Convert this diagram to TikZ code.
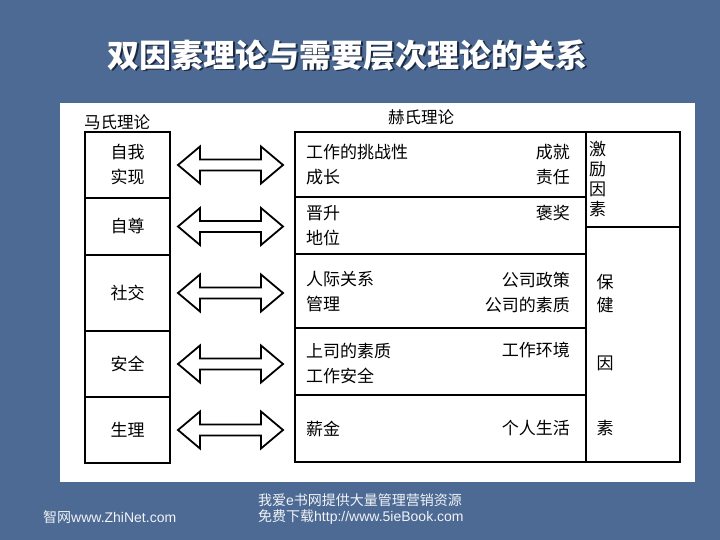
\documentclass[tikz,border=0pt]{standalone}
\usepackage{fontspec}
\setmainfont{Noto Sans CJK SC}
\newfontfamily\latinfont{Liberation Sans}
\usetikzlibrary{calc,positioning}
\definecolor{slideblue}{RGB}{76,106,148}
\definecolor{shadowblue}{RGB}{28,40,62}
\newcommand{\bodyfont}{\fontsize{17}{25}\selectfont}
\tikzset{
  cell/.style={draw, line width=1.4pt, fill=white, inner sep=0pt, outer sep=0pt, align=center, font=\bodyfont},
  lbl/.style={inner sep=0pt, font=\bodyfont},
  titletext/.style={inner sep=0pt, font=\fontsize{32}{36}\selectfont\bfseries},
  foottext/.style={inner sep=0pt, anchor=west, text=white!92!slideblue, font=\fontsize{14}{16}\selectfont},
  dualarrow/.style={draw, line width=1.8pt, fill=white, line join=miter}
}
% double arrow between two boxes
\newcommand{\linkarrow}[2]{%
  \draw[dualarrow] let \p1=(#1.east), \p2=(#2.west) in
  ({\x1+8pt},\y1) -- ({\x1+30pt},{\y1+18.5pt}) -- ({\x1+30pt},{\y1+5.5pt})
  -- ({\x2-34pt},{\y1+5.5pt}) -- ({\x2-34pt},{\y1+18.5pt}) -- ({\x2-12pt},\y1)
  -- ({\x2-34pt},{\y1-18.5pt}) -- ({\x2-34pt},{\y1-5.5pt}) -- ({\x1+30pt},{\y1-5.5pt})
  -- ({\x1+30pt},{\y1-18.5pt}) -- cycle;}

\begin{document}
\begin{tikzpicture}[x=1pt,y=-1pt]
        % Slide background
        \fill[slideblue] (0,0) rectangle (720,540);
        \fill[white] (60,103) rectangle (695,482);
        % Title
        \node[titletext, text=shadowblue] (titleshadow) at (349,56.5) {双因素理论与需要层次理论的关系};
        \node[titletext, text=white] (title) at (347.5,55) {双因素理论与需要层次理论的关系};
        % Column headings
        \node[lbl, font=\fontsize{16.5}{20}\selectfont] (maslow) at (117,122) {马氏理论};
        \node[lbl, font=\fontsize{16.5}{20}\selectfont] (herzberg) at (421,117) {赫氏理论};
        % Maslow needs
        \node[cell, minimum width=85pt, minimum height=66pt] (selfreal) at (127.5,165) {自我\\实现};
        \node[cell, minimum width=85pt, minimum height=57pt, below=0pt of selfreal] (esteem) {自尊};
        \node[cell, minimum width=85pt, minimum height=76pt, below=0pt of esteem] (social) {社交};
        \node[cell, minimum width=85pt, minimum height=66pt, below=0pt of social] (safety) {安全};
        \node[cell, minimum width=85pt, minimum height=66pt, below=0pt of safety] (physio) {生理};
        % Herzberg factors
        \node[cell, minimum width=291pt, minimum height=65pt] (growth) at (440.5,164.5) {};
        \node[cell, minimum width=291pt, minimum height=57pt, below=0pt of growth] (promo) {};
        \node[cell, minimum width=291pt, minimum height=74pt, below=0pt of promo] (relation) {};
        \node[cell, minimum width=291pt, minimum height=67pt, below=0pt of relation] (superv) {};
        \node[cell, minimum width=291pt, minimum height=67pt, below=0pt of superv] (salary) {};
        \node[cell, minimum width=94pt, minimum height=95pt, anchor=north west] (motivf) at (growth.north east) {};
        \node[cell, minimum width=94pt, minimum height=235pt, below=0pt of motivf] (hygienef) {};
        % Row texts
        \node[lbl, anchor=west, align=left] (growthl) at ([xshift=11pt]growth.west) {工作的挑战性\\成长};
        \node[lbl, anchor=east, align=right] (growthr) at ([xshift=-16pt]growth.east) {成就\\责任};
        \node[lbl, anchor=west, align=left] (promol) at ([xshift=11pt]promo.west) {晋升\\地位};
        \node[lbl, anchor=east] (promor) at ([xshift=-16pt,yshift=12.5pt]promo.east) {褒奖};
        \node[lbl, anchor=west, align=left] (relationl) at ([xshift=11pt,yshift=-1pt]relation.west) {人际关系\\管理};
        \node[lbl, anchor=east, align=right] (relationr) at ([xshift=-16pt,yshift=-1pt]relation.east) {公司政策\\公司的素质};
        \node[lbl, anchor=west, align=left] (supervl) at ([xshift=11pt,yshift=-2pt]superv.west) {上司的素质\\工作安全};
        \node[lbl, anchor=east] (supervr) at ([xshift=-16pt,yshift=11.5pt]superv.east) {工作环境};
        \node[lbl, anchor=west] (salaryl) at ([xshift=11pt]salary.west) {薪金};
        \node[lbl, anchor=east] (salaryr) at ([xshift=-16pt]salary.east) {个人生活};
        % Factor groups
        \node[lbl, anchor=west, align=center, font=\fontsize{17}{20}\selectfont] (motivtxt) at ([xshift=3pt]motivf.west) {激\\励\\因\\素};
        \node[lbl] (hyg1) at (605,282) {保};
        \node[lbl] (hyg2) at (605,305) {健};
        \node[lbl] (hyg3) at (605,363) {因};
        \node[lbl] (hyg4) at (605,428) {素};
        % Links
        \linkarrow{selfreal}{growth}
        \linkarrow{esteem}{promo}
        \linkarrow{social}{relation}
        \linkarrow{safety}{superv}
        \linkarrow{physio}{salary}
        % Footer
        \node[foottext] (zhinet) at (43,517) {智网{\latinfont www.ZhiNet.com}};
        \node[foottext] (ebook1) at (258,500) {我爱{\latinfont e}书网提供大量管理营销资源};
        \node[foottext] (ebook2) at (258,517) {免费下载{\latinfont http://www.5ieBook.com}};
      \end{tikzpicture}
\end{document}
